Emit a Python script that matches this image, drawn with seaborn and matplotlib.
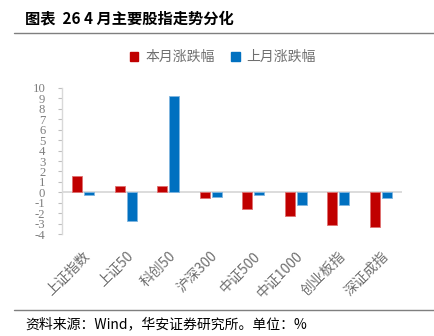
import matplotlib
matplotlib.use("Agg")
import matplotlib.pyplot as plt
import matplotlib.lines as mlines
import matplotlib.patches as mpatches
import seaborn as sns
import pandas as pd

# Monthly change of major A-share indices (%)
categories = ["上证指数", "上证50", "科创50", "沪深300", "中证500", "中证1000", "创业板指", "深证成指"]
this_month = [1.55, 0.58, 0.58, -0.51, -1.57, -2.24, -3.14, -3.33]
last_month = [-0.22, -2.76, 9.23, -0.45, -0.26, -1.18, -1.25, -0.51]
series_names = ["本月涨跌幅", "上月涨跌幅"]
colors = ["#C00000", "#0070C0"]
edge_colors = ["#E07070", "#7FB5E0"]
y_ticks = list(range(-4, 11))

df = pd.DataFrame({
    "index": categories * 2,
    "series": [series_names[0]] * len(categories) + [series_names[1]] * len(categories),
    "value": this_month + last_month,
})

sns.set_theme(style="white")
plt.rcParams["font.family"] = ["Noto Sans CJK SC", "DejaVu Sans"]

fig = plt.figure(figsize=(4.35, 3.36), dpi=100)
ax = fig.add_axes([62 / 435, 102 / 336, 340 / 435, 146 / 336])

sns.barplot(data=df, x="index", y="value", hue="series", order=categories,
            hue_order=series_names, palette=colors, width=0.56, gap=0.14,
            legend=False, ax=ax, saturation=1)

# light outline on each bar
for container, ec in zip(ax.containers, edge_colors):
    for patch in container:
        patch.set_edgecolor(ec)
        patch.set_linewidth(0.6)

ax.axhline(0, color="#D9D9D9", lw=1.3, zorder=0.5)
ax.set_ylim(-4, 10)
ax.set_xlim(-0.5, len(categories) - 0.5)
ax.set_yticks(y_ticks)
ax.set_yticklabels([str(t) for t in y_ticks], family="Liberation Serif",
                   fontsize=9.2, color="#7F7F7F")
ax.tick_params(axis="y", which="both", left=True, length=3, width=0.8,
               color="#BFBFBF", pad=9)
ax.tick_params(axis="x", length=0, pad=11)
ax.set_xticks(range(len(categories)))
ax.set_xticklabels(categories, rotation=45, ha="right", rotation_mode="anchor",
                   fontsize=10, color="#6F6F6F")
ax.set_xlabel("")
ax.set_ylabel("")
for side in ["top", "right", "bottom"]:
    ax.spines[side].set_visible(False)
ax.spines["left"].set_color("#D9D9D9")
ax.spines["left"].set_linewidth(1.0)
ax.grid(False)

# legend
handles = [mpatches.Patch(facecolor=c, edgecolor=c, label=n)
           for c, n in zip(colors, series_names)]
fig.legend(handles=handles, loc="center", bbox_to_anchor=(223 / 435, 1 - 57 / 336),
           ncol=2, frameon=False, fontsize=10, handlelength=0.6, handleheight=0.6,
           handletextpad=0.5, columnspacing=1.2, labelcolor="#6F6F6F")

# title and source
fig.text(25 / 435, 1 - 18 / 336, "图表  26 4 月主要股指走势分化", fontsize=11,
         fontweight="bold", color="black", va="center", ha="left")
fig.add_artist(mlines.Line2D([14 / 435, 1], [1 - 33 / 336] * 2, color="#7F7F7F", lw=1.0))
fig.add_artist(mlines.Line2D([14 / 435, 1], [1 - 310 / 336] * 2, color="#7F7F7F", lw=1.0))
fig.text(25 / 435, 1 - 324 / 336, "资料来源：Wind，华安证券研究所。单位：%", fontsize=10,
         color="black", va="center", ha="left")

fig.savefig("out.png", dpi=100)
